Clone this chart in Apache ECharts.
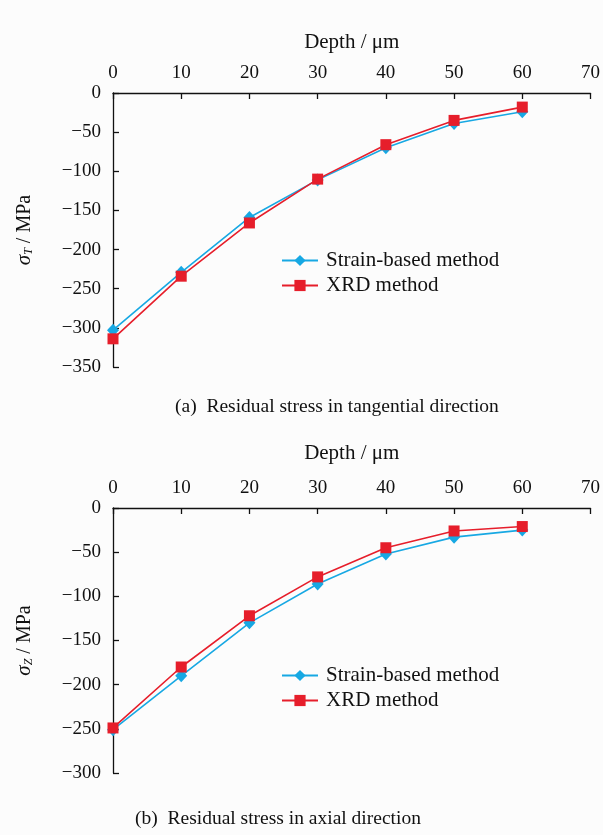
<!DOCTYPE html>
<html>
<head>
<meta charset="utf-8">
<script src="https://cdn.jsdelivr.net/npm/echarts@6/dist/echarts.min.js"></script>
<style>
  html, body { margin: 0; padding: 0; background: #fcfcfc; }
  #chart { width: 603px; height: 835px; }
</style>
</head>
<body>
<div id="chart"></div>
<script>
// depth values (µm)
const depth = [0, 10, 20, 30, 40, 50, 60];
// (a) tangential residual stress, MPa
const tangStrain = [-303, -229, -159, -111, -70, -39, -24];
const tangXrd = [-314, -234, -166, -110, -66, -35, -18];
// (b) axial residual stress, MPa
const axialStrain = [-251, -190, -130, -86, -52, -33, -25];
const axialXrd = [-249, -180, -122, -78, -45, -26, -21];

const seriesNames = ['Strain-based method', 'XRD method'];
const blue = '#17a8e3';
const red = '#e61e2b';
const font = 'Liberation Serif';

function pairs(xs, ys) {
    return xs.map((x, i) => [x, ys[i]]);
}

function minusFmt(v) {
    return String(v).replace('-', '\u2212');
}

function xAxisFor(idx) {
    return {
        gridIndex: idx,
        type: 'value',
        position: 'top',
        min: 0, max: 70, interval: 10,
        name: 'Depth / \u03bcm',
        nameLocation: 'middle',
        nameGap: idx === 0 ? 40 : 44,
        nameTextStyle: { fontFamily: font, fontSize: 21, color: '#111' },
        axisLine: { onZero: false, lineStyle: { color: '#111', width: 1.3 } },
        axisTick: { inside: true, length: 6, lineStyle: { color: '#111', width: 1.3 } },
        axisLabel: { fontFamily: font, fontSize: 19, color: '#111', margin: 10 },
        splitLine: { show: false }
    };
}

function yAxisFor(idx, min, sub) {
    return {
        gridIndex: idx,
        type: 'value',
        min: min, max: 0, interval: 50,
        name: '{s|\u03c3}{sub|' + sub + '}{n| / MPa}',
        nameLocation: 'middle',
        nameRotate: 90,
        nameGap: 78,
        nameTextStyle: {
            fontFamily: font, fontSize: 20, color: '#111',
            rich: {
                s: { fontFamily: font, fontSize: 21, fontStyle: 'italic', color: '#111' },
                sub: { fontFamily: font, fontSize: 12, fontStyle: 'italic', color: '#111', verticalAlign: 'bottom', padding: [9, 0, 0, 0] },
                n: { fontFamily: font, fontSize: 20, color: '#111' }
            }
        },
        axisLine: { onZero: false, lineStyle: { color: '#111', width: 1.3 } },
        axisTick: { inside: true, length: 6, lineStyle: { color: '#111', width: 1.3 } },
        axisLabel: { fontFamily: font, fontSize: 19, color: '#111', margin: 12, formatter: minusFmt },
        splitLine: { show: false }
    };
}

function lineSeries(name, idx, ys, color, symbol, size) {
    return {
        name: name,
        type: 'line',
        xAxisIndex: idx,
        yAxisIndex: idx,
        data: pairs(depth, ys),
        symbol: symbol,
        symbolSize: size,
        showSymbol: true,
        lineStyle: { color: color, width: 1.6 },
        itemStyle: { color: color },
        animation: false
    };
}

function legendAt(top) {
    return {
        orient: 'vertical',
        left: 276,
        top: top,
        itemWidth: 36,
        itemHeight: 14,
        itemGap: 4,
        textStyle: { fontFamily: font, fontSize: 21, color: '#111', padding: [0, 0, 0, 3] },
        data: seriesNames,
        selectedMode: false
    };
}

const chart = echarts.init(document.getElementById('chart'));
chart.setOption({
    backgroundColor: '#fcfcfc',
    grid: [
        { left: 113, width: 478, top: 93, height: 274 },
        { left: 113, width: 478, top: 508, height: 265 }
    ],
    xAxis: [xAxisFor(0), xAxisFor(1)],
    yAxis: [yAxisFor(0, -350, 'T'), yAxisFor(1, -300, 'Z')],
    legend: [legendAt(245), legendAt(660)],
    series: [
        lineSeries(seriesNames[0], 0, tangStrain, blue, 'diamond', [12, 13]),
        lineSeries(seriesNames[1], 0, tangXrd, red, 'rect', 11),
        lineSeries(seriesNames[0], 1, axialStrain, blue, 'diamond', [12, 13]),
        lineSeries(seriesNames[1], 1, axialXrd, red, 'rect', 11)
    ],
    graphic: [
        {
            type: 'text', left: 175, top: 397,
            style: { text: '(a)  Residual stress in tangential direction', font: '19.5px "Liberation Serif"', fill: '#111' }
        },
        {
            type: 'text', left: 135, top: 809,
            style: { text: '(b)  Residual stress in axial direction', font: '19.5px "Liberation Serif"', fill: '#111' }
        }
    ]
});
</script>
</body>
</html>
